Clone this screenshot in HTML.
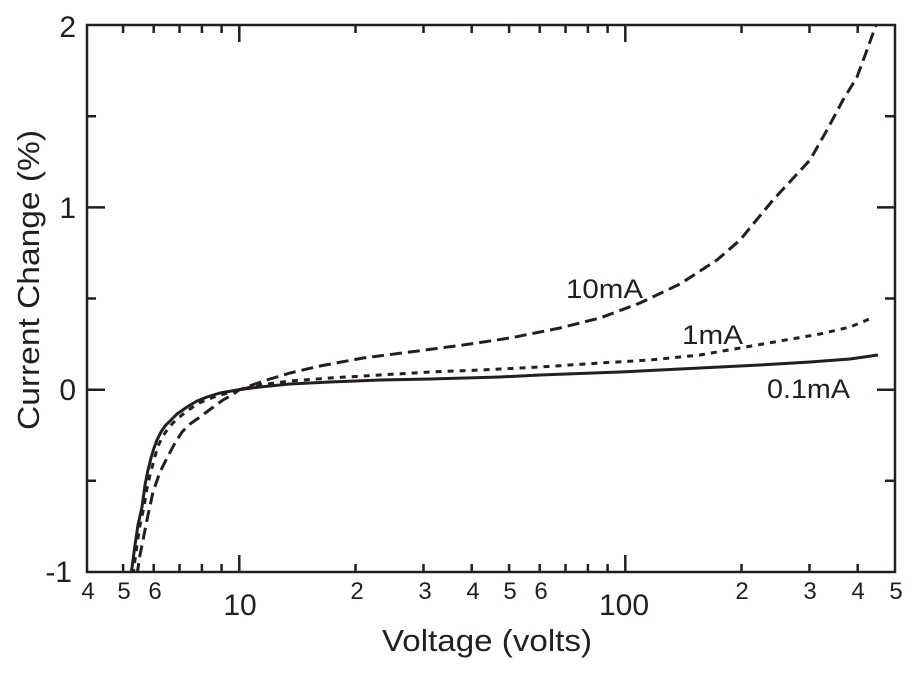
<!DOCTYPE html>
<html><head><meta charset="utf-8"><style>
html,body{margin:0;padding:0;background:#fff;}
svg{display:block;}
text{font-family:"Liberation Sans",Arial,sans-serif;fill:#231f20;}
</style></head><body>
<svg width="914" height="673" viewBox="0 0 914 673" xmlns="http://www.w3.org/2000/svg">
<defs><clipPath id="pa"><rect x="87" y="25" width="808" height="547"/></clipPath></defs>
<g stroke="#231f20" stroke-width="2.5" fill="none">
<rect x="87" y="25" width="808" height="547"/>
<path d="M123.1 572V564M153.7 572V564M179.5 572V564M201.9 572V564M221.6 572V564M239.3 572V555M355.5 572V564M423.5 572V564M471.7 572V564M509.1 572V564M539.7 572V564M565.5 572V564M587.9 572V564M607.6 572V564M625.3 572V555M741.5 572V564M809.5 572V564M857.7 572V564"/>
<path d="M123.1 25V33M153.7 25V33M179.5 25V33M201.9 25V33M221.6 25V33M239.3 25V42M355.5 25V33M423.5 25V33M471.7 25V33M509.1 25V33M539.7 25V33M565.5 25V33M587.9 25V33M607.6 25V33M625.3 25V42M741.5 25V33M809.5 25V33M857.7 25V33"/>
<path d="M87 116.3H96M87 207.4H105M87 298.5H96M87 389.7H105M87 480.8H96"/>
<path d="M895 116.3H885M895 207.4H877M895 298.5H885M895 389.7H877M895 480.8H885"/>
</g>
<g clip-path="url(#pa)" fill="none" stroke="#231f20" stroke-width="3" stroke-linejoin="round">
<polyline points="131,575 135,545 138,525 142,507 145,485 148,470 151,458 154,448 157,440 161,432 165,426 170,421 177,414 187,407 197,401 207,397 220,393 237,390 260,387 290,384 330,382 380,380 430,379 500,377 540,375 620,372 700,368 760,365 810,362 850,359 878,355"/>
<polyline stroke-dasharray="6 6" points="133,575 137,545 140,525 144,507 147,488 150,475 154,460 158,446 163,436 169,427 177,419 187,411 199,403 214,397 238,390 260,385 290,381 330,378 380,375 430,372 480,370 540,367 600,363 650,360 700,355 740,348 780,341 820,334 850,327 872,318"/>
<polyline stroke-dasharray="12 6" points="137,575 140,555 143,540 148,515 153,492 160,472 168,456 175,443 182,432 190,424 200,417 212,408 223,400 232,395 239,390 255,384 270,379 290,373 320,366 363,358 410,352 463,345 510,338 560,328 600,318 640,303 680,284 717,260 740,240 773,200 810,160 827,130 843,100 857,77 867,50 876,25"/>
</g>
<g font-size="30" text-anchor="end">
<text x="76" y="37">2</text>
<text x="76" y="218">1</text>
<text x="76" y="400">0</text>
<text x="72" y="582">-1</text>
</g>
<g font-size="24" text-anchor="middle">
<text x="88" y="599">4</text>
<text x="124" y="599">5</text>
<text x="155" y="599">6</text>
<text x="357" y="599">2</text>
<text x="425" y="599">3</text>
<text x="473" y="599">4</text>
<text x="510" y="599">5</text>
<text x="541" y="599">6</text>
<text x="742" y="599">2</text>
<text x="810" y="599">3</text>
<text x="858" y="599">4</text>
<text x="896" y="599">5</text>
</g>
<g font-size="30" text-anchor="middle">
<text x="240" y="615">10</text>
<text x="624" y="615">100</text>
</g>
<text x="382" y="651" font-size="31" textLength="210" lengthAdjust="spacingAndGlyphs">Voltage (volts)</text>
<text transform="translate(39,280) rotate(-90)" font-size="31" text-anchor="middle" textLength="300" lengthAdjust="spacingAndGlyphs">Current Change (%)</text>
<g font-size="27">
<text x="566" y="298" textLength="77" lengthAdjust="spacingAndGlyphs">10mA</text>
<text x="682" y="344" textLength="61" lengthAdjust="spacingAndGlyphs">1mA</text>
<text x="767" y="398" textLength="83" lengthAdjust="spacingAndGlyphs">0.1mA</text>
</g>
</svg>
</body></html>
